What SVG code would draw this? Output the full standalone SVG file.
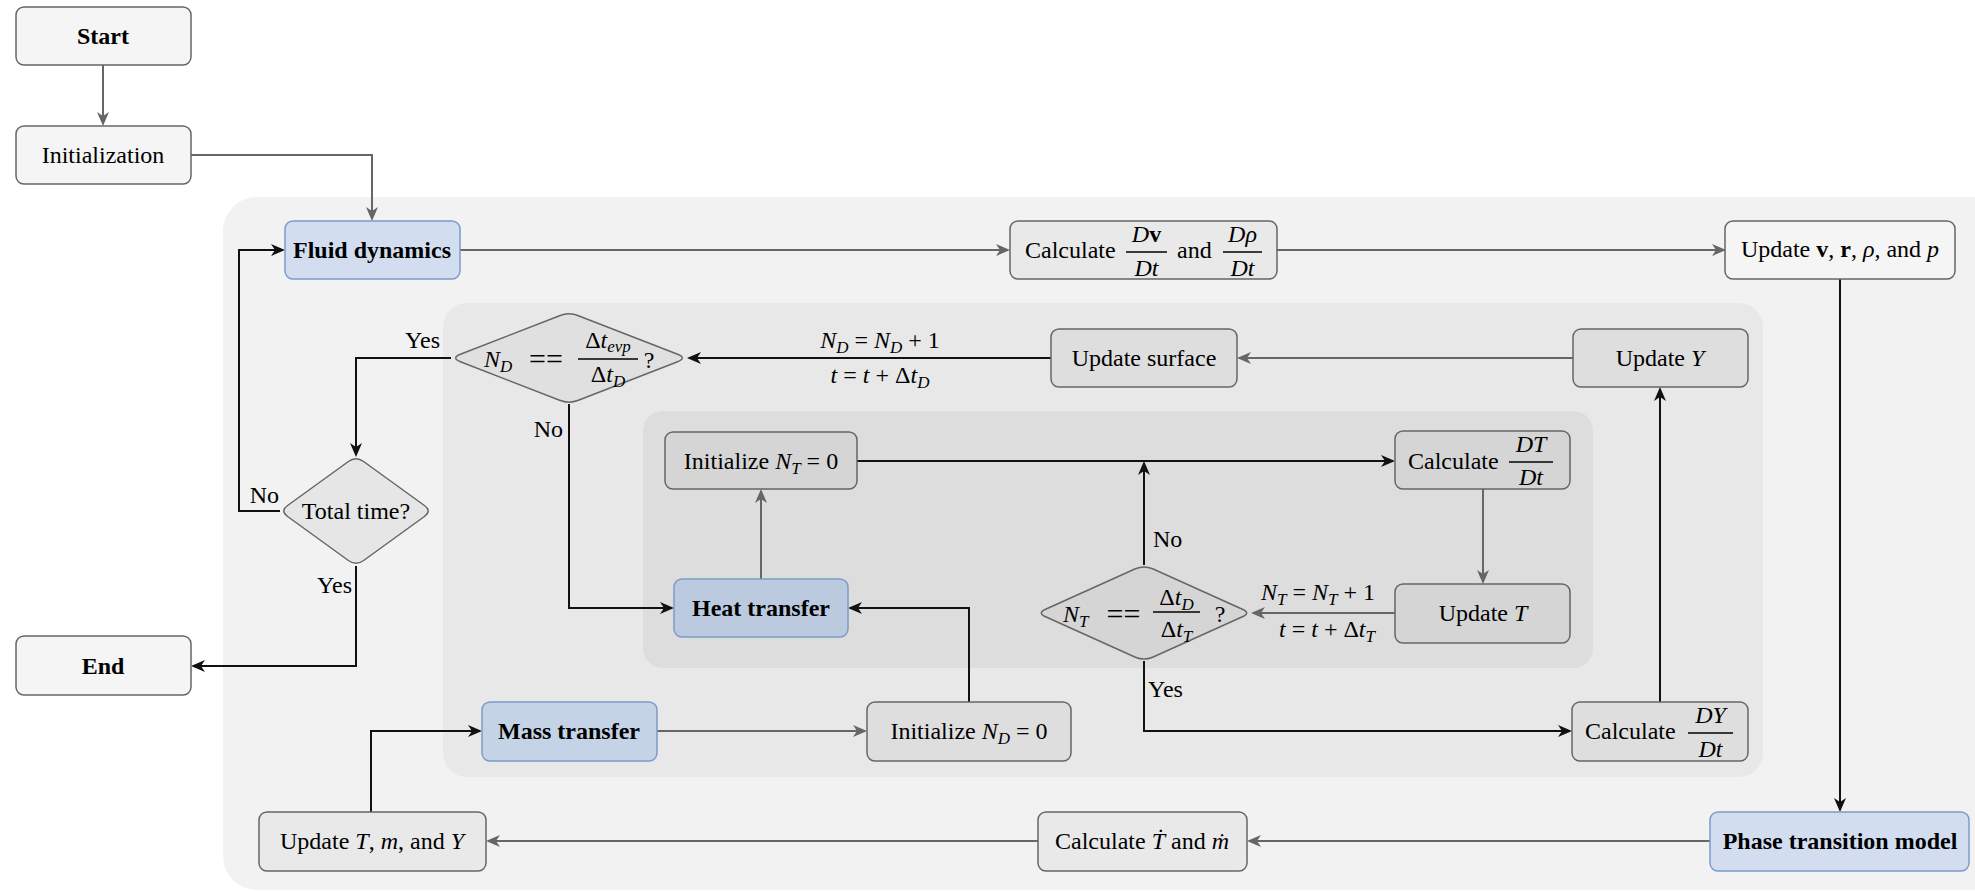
<svg xmlns="http://www.w3.org/2000/svg" width="1975" height="891" viewBox="0 0 1975 891">
<defs>
<style>
text{font-family:"Liberation Serif","DejaVu Serif",serif;font-size:24px;fill:#000}
.b{font-weight:bold}
.i{font-style:italic}
.r{font-style:normal}
.sub{font-size:17px;font-style:italic}
.eq{font-size:30px}
.box{stroke:#666;stroke-width:1.5}
.light{fill:#f5f5f5}
.g1{fill:#e9e9e9}
.g2{fill:#dedede}
.g3{fill:#d5d5d5}
.blue{fill:#d2def0;stroke:#7b9cc9;stroke-width:1.5}
.blue2{fill:#c5d3e7;stroke:#7b9cc9;stroke-width:1.5}
.blue3{fill:#bccadf;stroke:#7b9cc9;stroke-width:1.5}
.eg{fill:none;stroke:#666;stroke-width:2;marker-end:url(#ag)}
.ek{fill:none;stroke:#111;stroke-width:2;marker-end:url(#ak)}
.bar{stroke:#000;stroke-width:1.5}
</style>
<marker id="ag" markerUnits="userSpaceOnUse" markerWidth="14" markerHeight="12" viewBox="0 0 14 12" refX="12" refY="6" orient="auto"><path d="M0,0 L14,6 L0,12 L4,6 z" fill="#666"/></marker>
<marker id="ak" markerUnits="userSpaceOnUse" markerWidth="14" markerHeight="12" viewBox="0 0 14 12" refX="12" refY="6" orient="auto"><path d="M0,0 L14,6 L0,12 L4,6 z" fill="#111"/></marker>
</defs>
<rect width="1975" height="891" fill="#fff"/>
<g id="containers">
<rect x="223" y="197" width="1790" height="693" rx="34" fill="#f2f2f2"/>
<rect x="443" y="303" width="1320" height="474" rx="24" fill="#e8e8e8"/>
<rect x="643" y="411" width="950" height="257" rx="20" fill="#dddddd"/>
</g>
<g id="connectors">
<path class="eg" d="M103,65 V124"/>
<path class="eg" d="M191,155 H372 V219"/>
<path class="eg" d="M460,250 H1008"/>
<path class="eg" d="M1277,250 H1724"/>
<path class="ek" d="M1840,279 V810"/>
<path class="eg" d="M1710,841 H1249"/>
<path class="eg" d="M1038,841 H488"/>
<path class="ek" d="M371,812 V731 H480"/>
<path class="eg" d="M657,731 H865"/>
<path class="ek" d="M969,702 V608 H850"/>
<path class="ek" d="M569,404 V608 H672"/>
<path class="eg" d="M761,579 V491"/>
<path class="ek" d="M857,461 H1393"/>
<path class="ek" d="M1144,565 V463"/>
<path class="eg" d="M1483,489 V582"/>
<path class="eg" d="M1395,613 H1253"/>
<path class="ek" d="M1144,661 V731 H1570"/>
<path class="ek" d="M1660,702 V389"/>
<path class="eg" d="M1573,358 H1239"/>
<path class="ek" d="M1051,358 H689"/>
<path class="ek" d="M451,358 H356 V455"/>
<path class="ek" d="M280,511 H239 V250 H283"/>
<path class="ek" d="M356,566 V666 H193"/>
<text x="440" y="348" text-anchor="end">Yes</text>
<text x="563" y="437" text-anchor="end">No</text>
<text x="279" y="503" text-anchor="end">No</text>
<text x="352" y="593" text-anchor="end">Yes</text>
<text x="1153" y="547">No</text>
<text x="1148" y="697">Yes</text>
<text x="880" y="348" text-anchor="middle" class="i">N<tspan class="sub" dy="5">D</tspan><tspan class="r" dy="-5"> = </tspan>N<tspan class="sub" dy="5">D</tspan><tspan class="r" dy="-5"> + 1</tspan></text>
<text x="880" y="383" text-anchor="middle" class="i">t<tspan class="r"> = </tspan>t<tspan class="r"> + Δ</tspan>t<tspan class="sub" dy="5">D</tspan></text>
<text x="1318" y="600" text-anchor="middle" class="i">N<tspan class="sub" dy="5">T</tspan><tspan class="r" dy="-5"> = </tspan>N<tspan class="sub" dy="5">T</tspan><tspan class="r" dy="-5"> + 1</tspan></text>
<text x="1327" y="637" text-anchor="middle" class="i">t<tspan class="r"> = </tspan>t<tspan class="r"> + Δ</tspan>t<tspan class="sub" dy="5">T</tspan></text>
</g>
<g id="start">
<rect class="box light" x="16" y="7" width="175" height="58" rx="8"/>
<text class="b" x="103" y="44" text-anchor="middle">Start</text>
</g>
<g id="initialization">
<rect class="box light" x="16" y="126" width="175" height="58" rx="8"/>
<text x="103" y="163" text-anchor="middle">Initialization</text>
</g>
<g id="end">
<rect class="box light" x="16" y="636" width="175" height="59" rx="8"/>
<text class="b" x="103" y="674" text-anchor="middle">End</text>
</g>
<g id="fluid-dynamics">
<rect class="blue" x="285" y="221" width="175" height="58" rx="8"/>
<text class="b" x="372" y="258" text-anchor="middle">Fluid dynamics</text>
</g>
<g id="calc-dv">
<rect class="box g1" x="1010" y="221" width="267" height="58" rx="8"/>
<text x="1025" y="258">Calculate</text>
<line class="bar" x1="1126" y1="252" x2="1167" y2="252"/>
<text x="1146.5" y="242" text-anchor="middle" class="i">D<tspan class="r b">v</tspan></text>
<text x="1146.5" y="276" text-anchor="middle" class="i">Dt</text>
<text x="1177" y="258">and</text>
<line class="bar" x1="1223" y1="252" x2="1262" y2="252"/>
<text x="1242.5" y="242" text-anchor="middle" class="i">Dρ</text>
<text x="1242.5" y="276" text-anchor="middle" class="i">Dt</text>
</g>
<g id="update-vrp">
<rect class="box light" x="1725" y="221" width="230" height="58" rx="8"/>
<text x="1840" y="257" text-anchor="middle">Update <tspan class="b">v</tspan>, <tspan class="b">r</tspan>, <tspan class="i">ρ</tspan>, and <tspan class="i">p</tspan></text>
</g>
<g id="phase-transition">
<rect class="blue" x="1710" y="812" width="259" height="59" rx="8"/>
<text class="b" x="1840" y="849" text-anchor="middle">Phase transition model</text>
</g>
<g id="calc-tdot">
<rect class="box g1" x="1038" y="812" width="209" height="59" rx="8"/>
<text x="1142" y="849" text-anchor="middle">Calculate <tspan class="i">Ṫ</tspan> and <tspan class="i">ṁ</tspan></text>
</g>
<g id="update-tmy">
<rect class="box g1" x="259" y="812" width="227" height="59" rx="8"/>
<text x="372" y="849" text-anchor="middle">Update <tspan class="i">T</tspan>, <tspan class="i">m</tspan>, and <tspan class="i">Y</tspan></text>
</g>
<g id="mass-transfer">
<rect class="blue2" x="482" y="702" width="175" height="59" rx="8"/>
<text class="b" x="569" y="739" text-anchor="middle">Mass transfer</text>
</g>
<g id="init-nd">
<rect class="box g2" x="867" y="702" width="204" height="59" rx="8"/>
<text x="969" y="739" text-anchor="middle">Initialize <tspan class="i">N</tspan><tspan class="sub" dy="5">D</tspan><tspan dy="-5"> = 0</tspan></text>
</g>
<g id="calc-dy">
<rect class="box g2" x="1572" y="702" width="176" height="59" rx="8"/>
<text x="1585" y="739">Calculate</text>
<line class="bar" x1="1688" y1="733" x2="1733" y2="733"/>
<text x="1710.5" y="723" text-anchor="middle" class="i">DY</text>
<text x="1710.5" y="757" text-anchor="middle" class="i">Dt</text>
</g>
<g id="update-y">
<rect class="box g2" x="1573" y="329" width="175" height="58" rx="8"/>
<text x="1660" y="366" text-anchor="middle">Update <tspan class="i">Y</tspan></text>
</g>
<g id="update-surface">
<rect class="box g2" x="1051" y="329" width="186" height="58" rx="8"/>
<text x="1144" y="366" text-anchor="middle">Update surface</text>
</g>
<g id="decision-nd">
<path class="box" fill="#e0e0e0" d="M460.4,354.3 L559.6,315.7 Q569,312 578.4,315.7 L677.6,354.3 Q687,358 677.6,361.7 L578.4,400.3 Q569,404 559.6,400.3 L460.4,361.7 Q451,358 460.4,354.3 Z"/>
<text x="484" y="367" class="i">N<tspan class="sub" dy="5">D</tspan></text>
<text x="546" y="369" text-anchor="middle" class="eq">==</text>
<line class="bar" x1="578" y1="359" x2="638" y2="359"/>
<text x="608" y="348" text-anchor="middle" class="i"><tspan class="r">Δ</tspan>t<tspan class="sub" dy="4">evp</tspan></text>
<text x="608" y="382" text-anchor="middle" class="i"><tspan class="r">Δ</tspan>t<tspan class="sub" dy="5">D</tspan></text>
<text x="649" y="368" text-anchor="middle">?</text>
</g>
<g id="decision-total">
<path class="box" fill="#e6e6e6" d="M287.6,505.5 L348.4,461.5 Q356,456 363.6,461.5 L424.4,505.5 Q432,511 424.4,516.5 L363.6,560.5 Q356,566 348.4,560.5 L287.6,516.5 Q280,511 287.6,505.5 Z"/>
<text x="356" y="519" text-anchor="middle">Total time?</text>
</g>
<g id="init-nt">
<rect class="box g3" x="665" y="432" width="192" height="57" rx="8"/>
<text x="761" y="469" text-anchor="middle">Initialize <tspan class="i">N</tspan><tspan class="sub" dy="5">T</tspan><tspan dy="-5"> = 0</tspan></text>
</g>
<g id="heat-transfer">
<rect class="blue3" x="674" y="579" width="174" height="58" rx="8"/>
<text class="b" x="761" y="616" text-anchor="middle">Heat transfer</text>
</g>
<g id="calc-dt">
<rect class="box g3" x="1395" y="431" width="175" height="58" rx="8"/>
<text x="1408" y="469">Calculate</text>
<line class="bar" x1="1509" y1="462" x2="1553" y2="462"/>
<text x="1531" y="452" text-anchor="middle" class="i">DT</text>
<text x="1531" y="485" text-anchor="middle" class="i">Dt</text>
</g>
<g id="update-t">
<rect class="box g3" x="1395" y="584" width="175" height="59" rx="8"/>
<text x="1483" y="621" text-anchor="middle">Update <tspan class="i">T</tspan></text>
</g>
<g id="decision-nt">
<path class="box" fill="#d5d5d5" d="M1045.6,609.2 L1135.4,568.8 Q1144,565 1152.6,568.8 L1242.4,609.2 Q1251,613 1242.4,616.8 L1152.6,657.2 Q1144,661 1135.4,657.2 L1045.6,616.8 Q1037,613 1045.6,609.2 Z"/>
<text x="1063" y="622" class="i">N<tspan class="sub" dy="5">T</tspan></text>
<text x="1123.5" y="624" text-anchor="middle" class="eq">==</text>
<line class="bar" x1="1153" y1="612" x2="1200" y2="612"/>
<text x="1176.5" y="605" text-anchor="middle" class="i"><tspan class="r">Δ</tspan>t<tspan class="sub" dy="5">D</tspan></text>
<text x="1176.5" y="637" text-anchor="middle" class="i"><tspan class="r">Δ</tspan>t<tspan class="sub" dy="5">T</tspan></text>
<text x="1220" y="622" text-anchor="middle">?</text>
</g>
</svg>
